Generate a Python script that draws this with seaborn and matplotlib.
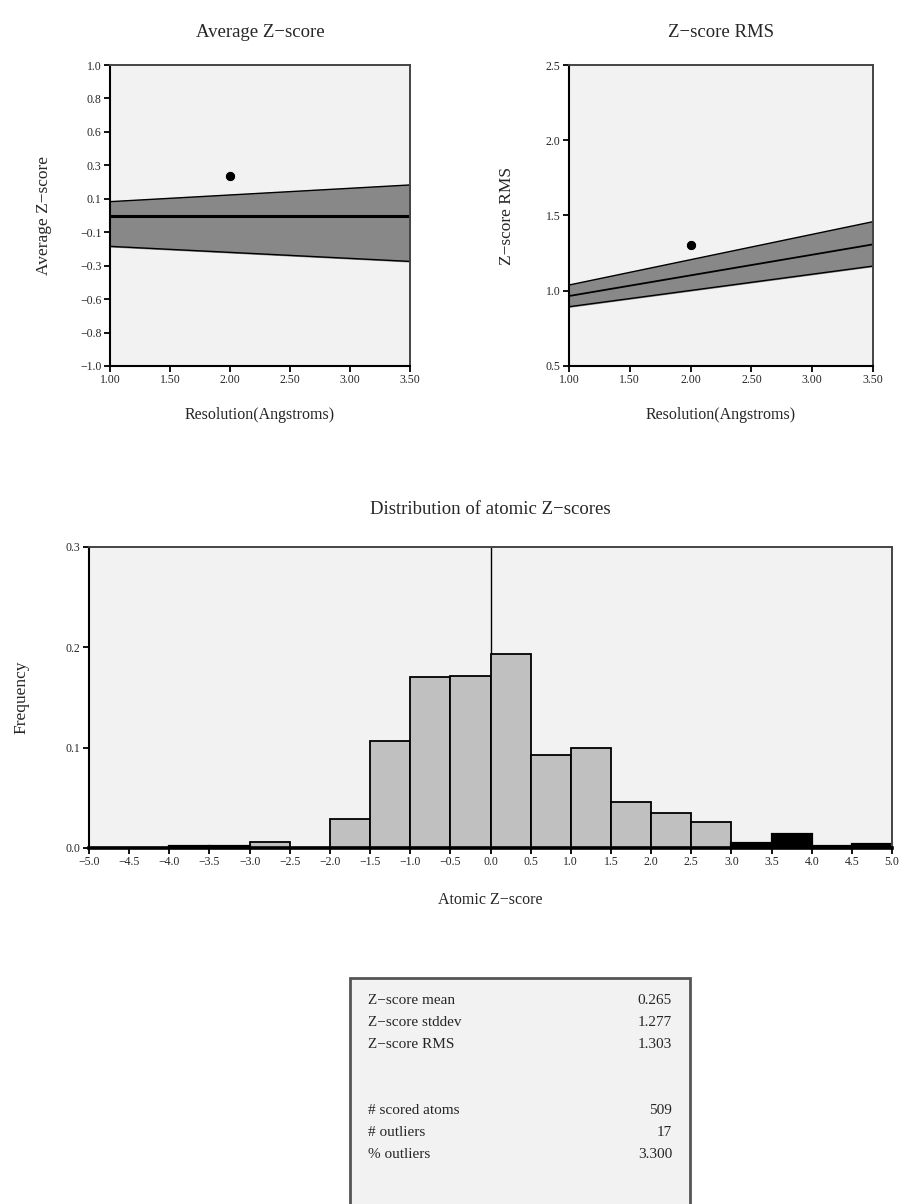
import numpy as np
import pandas as pd
import matplotlib
matplotlib.use("Agg")
import matplotlib.pyplot as plt
from matplotlib.patches import Rectangle
import seaborn as sns

# resolution band data
res = [1.0, 3.5]
avg_lo = [-0.205, -0.305]
avg_mid = [-0.002, -0.002]
avg_hi = [0.092, 0.203]
rms_lo = [0.894, 1.164]
rms_mid = [0.965, 1.308]
rms_hi = [1.038, 1.459]
point_res = 2.0
z_mean = 0.265
z_rms = 1.303

# histogram of atomic z-scores
bin_edges = [-5.0, -4.5, -4.0, -3.5, -3.0, -2.5, -2.0, -1.5, -1.0, -0.5, 0.0,
             0.5, 1.0, 1.5, 2.0, 2.5, 3.0, 3.5, 4.0, 4.5, 5.0]
freq = [0.0, 0.0, 0.002, 0.002, 0.006, 0.0, 0.029, 0.107, 0.170, 0.171,
        0.193, 0.093, 0.100, 0.046, 0.035, 0.026, 0.005, 0.014, 0.002, 0.004]

stat_names = ["Z\u2212score mean", "Z\u2212score stddev", "Z\u2212score RMS",
              "# scored atoms", "# outliers", "% outliers"]
stat_vals = ["0.265", "1.277", "1.303", "509", "17", "3.300"]

avg_ticks = list(np.linspace(-1, 1, 10))
avg_labels = ["\u22121.0", "\u22120.8", "\u22120.6", "\u22120.3", "\u22120.1",
              "0.1", "0.3", "0.6", "0.8", "1.0"]
res_ticks = [1.0, 1.5, 2.0, 2.5, 3.0, 3.5]
res_labels = ["1.00", "1.50", "2.00", "2.50", "3.00", "3.50"]
rms_ticks = [0.5, 1.0, 1.5, 2.0, 2.5]
hist_ticks = bin_edges
hist_labels = [("\u2212" if v < 0 else "") + "%.1f" % abs(v) for v in bin_edges]

sns.set_theme(style="white")
plt.rcParams['font.family'] = ['Liberation Serif', 'DejaVu Serif']
plt.rcParams['axes.unicode_minus'] = True

W, H = 905, 1204
fig = plt.figure(figsize=(W / 100, H / 100), dpi=100)


def px_axes(x0, y0, x1, y1):
    return fig.add_axes([x0 / W, 1 - y1 / H, (x1 - x0) / W, (y1 - y0) / H])


def style(ax):
    ax.set_facecolor("#f2f2f2")
    for s in ["left", "bottom"]:
        ax.spines[s].set_color("black")
        ax.spines[s].set_linewidth(1.5)
    for s in ["top", "right"]:
        ax.spines[s].set_color("#444444")
        ax.spines[s].set_linewidth(1.4)
    ax.tick_params(axis="both", which="both", direction="out", length=4,
                   width=1.3, color="black", labelsize=8.5, pad=2,
                   left=True, bottom=True)


def band(ax, lo, mid, hi, lw_mid):
    ax.fill_between(res, lo, hi, color="#888888", zorder=1)
    df = pd.DataFrame({"res": res * 3, "val": lo + hi + mid,
                       "part": ["lo"] * 2 + ["hi"] * 2 + ["mid"] * 2})
    sns.lineplot(data=df[df.part != "mid"], x="res", y="val", units="part",
                 estimator=None, color="black", lw=1.0, ax=ax, zorder=2)
    sns.lineplot(data=df[df.part == "mid"], x="res", y="val",
                 color="black", lw=lw_mid, ax=ax, zorder=2)


# --- Average Z-score ---
ax1 = px_axes(110, 65, 410, 366)
style(ax1)
band(ax1, avg_lo, avg_mid, avg_hi, 2.2)
sns.scatterplot(x=[point_res], y=[z_mean], color="black", s=55, ax=ax1, zorder=3)
ax1.set_xlim(1.0, 3.5)
ax1.set_ylim(-1.0, 1.0)
ax1.set_xticks(res_ticks, res_labels)
ax1.set_yticks(avg_ticks, avg_labels)
ax1.set_xlabel("Resolution(Angstroms)", fontsize=11.5, labelpad=15)
ax1.set_ylabel("Average Z\u2212score", fontsize=12.5, labelpad=20)
ax1.set_title("Average Z\u2212score", fontsize=13.5, pad=20)

# --- Z-score RMS ---
ax2 = px_axes(569, 65, 873, 366)
style(ax2)
band(ax2, rms_lo, rms_mid, rms_hi, 1.3)
sns.scatterplot(x=[point_res], y=[z_rms], color="black", s=55, ax=ax2, zorder=3)
ax2.set_xlim(1.0, 3.5)
ax2.set_ylim(0.5, 2.5)
ax2.set_xticks(res_ticks, res_labels)
ax2.set_yticks(rms_ticks, ["%.1f" % v for v in rms_ticks])
ax2.set_xlabel("Resolution(Angstroms)", fontsize=11.5, labelpad=15)
ax2.set_ylabel("Z\u2212score RMS", fontsize=12.5, labelpad=22)
ax2.set_title("Z\u2212score RMS", fontsize=13.5, pad=20)

# --- Histogram ---
ax3 = px_axes(89, 547, 892, 848)
style(ax3)
ax3.spines["bottom"].set_linewidth(2.6)
centers = [(a + b) / 2 for a, b in zip(bin_edges[:-1], bin_edges[1:])]
hdf = pd.DataFrame({"z": centers, "f": freq})
hdf["outlier"] = hdf["z"].abs() > 3
sns.histplot(data=hdf[~hdf.outlier], x="z", weights="f", bins=bin_edges,
             color="#c0c0c0", alpha=1, edgecolor="black", linewidth=1.3, ax=ax3)
sns.histplot(data=hdf[hdf.outlier], x="z", weights="f", bins=bin_edges,
             color="black", alpha=1, edgecolor="black", linewidth=1.6, ax=ax3)
ax3.axvline(0, color="black", lw=1.0, zorder=0)
ax3.set_xlim(-5, 5)
ax3.set_ylim(0, 0.3)
ax3.set_xticks(hist_ticks, hist_labels)
ax3.set_yticks([0.0, 0.1, 0.2, 0.3], ["0.0", "0.1", "0.2", "0.3"])
ax3.set_xlabel("Atomic Z\u2212score", fontsize=11.5, labelpad=17)
ax3.set_ylabel("Frequency", fontsize=12.5, labelpad=26)
ax3.set_title("Distribution of atomic Z\u2212scores", fontsize=13.5, pad=24)

# --- Stats box ---
box = Rectangle((350 / W, -0.02), 340 / W, (H - 978) / H + 0.02,
                transform=fig.transFigure, facecolor="#f2f2f2",
                edgecolor="#555555", linewidth=2.0, zorder=0)
fig.patches.append(box)
rows_y = [1001, 1023, 1045, 1110, 1132, 1155]
for name, val, yy in zip(stat_names, stat_vals, rows_y):
    fig.text(368 / W, 1 - yy / H, name, fontsize=11, va="center", ha="left")
    fig.text(672 / W, 1 - yy / H, val, fontsize=11, va="center", ha="right")

fig.savefig("out.png", dpi=100, facecolor="white")
